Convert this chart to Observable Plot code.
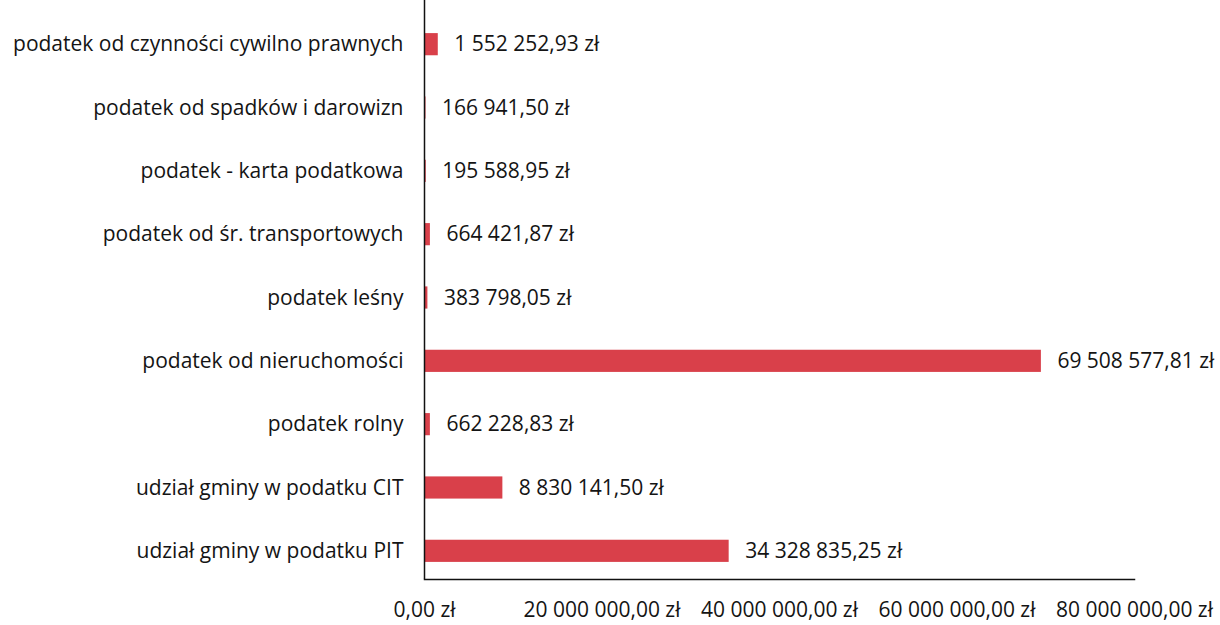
<!DOCTYPE html>
<html>
<head>
<meta charset="utf-8">
<script src="https://cdn.jsdelivr.net/npm/d3@7"></script>
<script src="https://cdn.jsdelivr.net/npm/@observablehq/plot@0.6"></script>
<style>
  html, body { margin: 0; padding: 0; background: #fff; }
  #chart svg { display: block; }
</style>
</head>
<body>
<div id="chart"></div>
<script>
const categories = [
  "podatek od czynności cywilno prawnych",
  "podatek od spadków i darowizn",
  "podatek - karta podatkowa",
  "podatek od śr. transportowych",
  "podatek leśny",
  "podatek od nieruchomości",
  "podatek rolny",
  "udział gminy w podatku CIT",
  "udział gminy w podatku PIT"
];
const values = [
  1552252.93,
  166941.50,
  195588.95,
  664421.87,
  383798.05,
  69508577.81,
  662228.83,
  8830141.50,
  34328835.25
];
const xTicks = [0, 20000000, 40000000, 60000000, 80000000];

const pl = d3.formatLocale({decimal: ",", thousands: " ", grouping: [3], currency: ["", " zł"]});
const fmt = pl.format("$,.2f");

const data = categories.map((c, i) => ({category: c, value: values[i]}));

const chart = Plot.plot({
  width: 1220,
  height: 625,
  marginLeft: 424,
  marginRight: 86,
  marginTop: 16,
  marginBottom: 46,
  style: {fontFamily: "'Open Sans', sans-serif", fontSize: "21px", color: "#141414", background: "#fff"},
  x: {domain: [0, 80000000], ticks: xTicks, tickFormat: fmt, tickSize: 0, tickPadding: 23, label: null},
  y: {domain: categories, round: false, paddingInner: 0.65, paddingOuter: 0.27, tickSize: 0, tickPadding: 21, label: null},
  marks: [
    Plot.barX(data, {x: "value", y: "category", fill: "#d9404a"}),
    Plot.text(data, {x: "value", y: "category", text: d => fmt(d.value), textAnchor: "start", dx: 16, fill: "#141414", fontSize: 21}),
    Plot.ruleX([0], {stroke: "#111", strokeWidth: 1.5, insetTop: -16}),
    Plot.frame({anchor: "bottom", stroke: "#111", strokeWidth: 1.5})
  ]
});
document.getElementById("chart").appendChild(chart);
</script>
</body>
</html>
